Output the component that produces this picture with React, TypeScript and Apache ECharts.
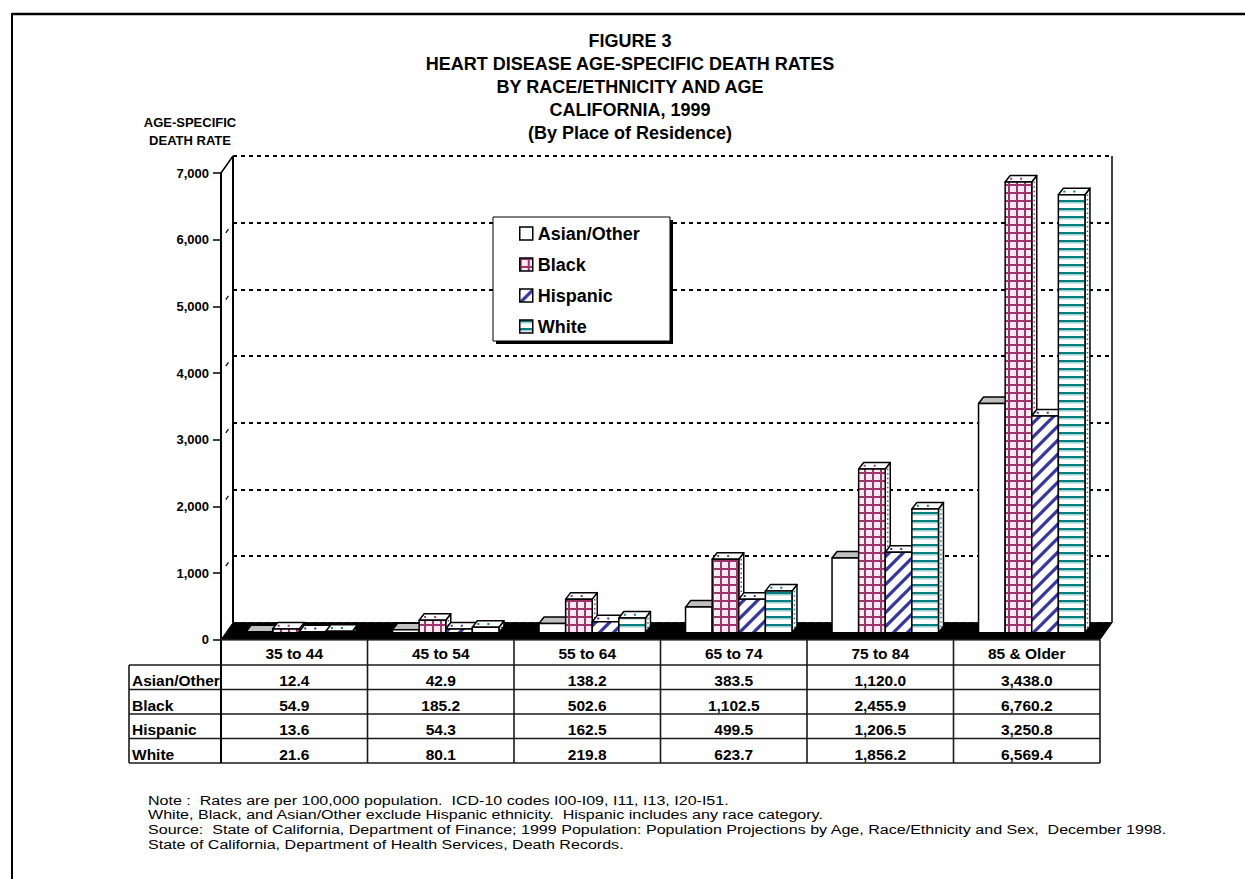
import React, { useEffect, useRef } from "react";
import * as echarts from "echarts";

const categories = ["35 to 44", "45 to 54", "55 to 64", "65 to 74", "75 to 84", "85 & Older"];
const seriesNames = ["Asian/Other", "Black", "Hispanic", "White"];
const asianOther = [12.4, 42.9, 138.2, 383.5, 1120.0, 3438.0];
const black = [54.9, 185.2, 502.6, 1102.5, 2455.9, 6760.2];
const hispanic = [13.6, 54.3, 162.5, 499.5, 1206.5, 3250.8];
const white = [21.6, 80.1, 219.8, 623.7, 1856.2, 6569.4];
const yMax = 7000;
const yInterval = 1000;
const yTicks = [1000, 2000, 3000, 4000, 5000, 6000];

const titleLines = [
  "FIGURE 3",
  "HEART DISEASE AGE-SPECIFIC DEATH RATES",
  "BY RACE/ETHNICITY AND AGE",
  "CALIFORNIA, 1999",
  "(By Place of Residence)",
];
const axisTitleLines = ["AGE-SPECIFIC", "DEATH RATE"];
const noteLines = [
  "Note :  Rates are per 100,000 population.  ICD-10 codes I00-I09, I11, I13, I20-I51.",
  "White, Black, and Asian/Other exclude Hispanic ethnicity.  Hispanic includes any race category.",
  "Source:  State of California, Department of Finance; 1999 Population: Population Projections by Age, Race/Ethnicity and Sex,  December 1998.",
  "State of California, Department of Health Services, Death Records.",
];

const FONT = '"Liberation Sans", Arial, Helvetica, sans-serif';

// layout
const GL = 221; // front plane left
const GT = 173; // front plane top (7000)
const GW = 879;
const GH = 466.67;
const GB = GT + GH;
const DX = 12; // back wall offset
const DY = -17;
const BAR_OX = 5;
const BAR_OY = -7;
const BOX_DX = 5;
const BOX_DY = -6.5;

function makeCanvas(w: number, h: number, draw: (ctx: CanvasRenderingContext2D) => void) {
  const c = document.createElement("canvas");
  c.width = w;
  c.height = h;
  const ctx = c.getContext("2d")!;
  ctx.fillStyle = "#fff";
  ctx.fillRect(0, 0, w, h);
  draw(ctx);
  return c;
}

function makePatterns() {
  const grid = makeCanvas(8, 8, (ctx) => {
    ctx.fillStyle = "#f7eaf0";
    ctx.fillRect(2, 2, 6, 6);
    ctx.fillStyle = "#a0356e";
    ctx.fillRect(0, 0, 8, 2);
    ctx.fillRect(0, 0, 2, 8);
  });
  const diag = makeCanvas(14, 14, (ctx) => {
    ctx.strokeStyle = "#3535a8";
    ctx.lineWidth = 3.2;
    ctx.beginPath();
    for (const o of [-14, 0, 14]) {
      ctx.moveTo(o - 2, 16);
      ctx.lineTo(o + 16, -2);
    }
    ctx.stroke();
  });
  const horiz = makeCanvas(8, 8, (ctx) => {
    ctx.fillStyle = "#00807f";
    ctx.fillRect(0, 0, 8, 2);
    ctx.fillStyle = "#9fd0cf";
    ctx.fillRect(0, 2, 8, 1.5);
  });
  const pat = (c: HTMLCanvasElement) => ({ image: c, repeat: "repeat", imageWidth: c.width, imageHeight: c.height });
  return ["#ffffff", pat(grid), pat(diag), pat(horiz)];
}

const fmt = (v: number) => v.toLocaleString("en-US", { minimumFractionDigits: 1, maximumFractionDigits: 1 });

export default function App() {
  const ref = useRef<HTMLDivElement>(null);
  useEffect(() => {
    if (!ref.current) return;
    const chart = echarts.init(ref.current, null, { renderer: "svg" });
    const fills = makePatterns();
    const topFills = ["#c0c0c0", "#ffffff", "#ffffff", "#ffffff"];
    const dotColors = ["#ffffff", "#a0356e", "#3535a8", "#00807f"];
    const seriesData = [asianOther, black, hispanic, white];
    const band = GW / categories.length;

    const series = seriesData.map((vals, si) => ({
      type: "custom",
      name: seriesNames[si],
      xAxisIndex: 0,
      yAxisIndex: 0,
      z: 3,
      data: vals.map((v, i) => [i, v]),
      encode: { x: 0, y: 1 },
      renderItem: (params: any, api: any) => {
        const ci = api.value(0);
        const v = api.value(1);
        const base = api.coord([ci, 0]);
        const top = api.coord([ci, v]);
        const bw = api.size([1, 0])[0] * 0.1816;
        const x0 = base[0] + BAR_OX - 2 * bw + params.seriesIndex * bw;
        const x1 = x0 + bw;
        const yb = base[1] + BAR_OY;
        const yt = top[1] + BAR_OY;
        const stroke = { stroke: "#000", lineWidth: 1.5, lineJoin: "round" };
        const children: any[] = [
          {
            type: "polygon",
            shape: { points: [[x1, yt], [x1 + BOX_DX, yt + BOX_DY], [x1 + BOX_DX, yb + BOX_DY], [x1, yb]] },
            style: { fill: "#fff", ...stroke },
          },
          {
            type: "polygon",
            shape: { points: [[x0, yt], [x0 + BOX_DX, yt + BOX_DY], [x1 + BOX_DX, yt + BOX_DY], [x1, yt]] },
            style: { fill: topFills[si], ...stroke },
          },
          {
            type: "rect",
            shape: { x: x0, y: yt, width: bw, height: Math.max(yb - yt, 0) },
            style: { fill: fills[si], ...stroke },
          },
        ];
        if (si > 0) {
          children.push({
            type: "line",
            shape: { x1: x1 + BOX_DX / 2, y1: yt + BOX_DY / 2 + 3, x2: x1 + BOX_DX / 2, y2: yb + BOX_DY / 2 - 1 },
            style: { stroke: dotColors[si], lineWidth: 1.5, lineDash: [1.5, 3] },
          });
          children.push({
            type: "line",
            shape: { x1: x0 + 5, y1: yt + BOX_DY / 2, x2: x1 - 2, y2: yt + BOX_DY / 2 },
            style: { stroke: dotColors[si], lineWidth: 2, lineDash: [2, 8] },
          });
        }
        return { type: "group", children };
      },
    }));

    const graphics: any[] = [];
    // outer border
    graphics.push({ type: "line", z: 20, shape: { x1: 12, y1: 14, x2: 1245, y2: 14 }, style: { stroke: "#000", lineWidth: 2.6 } });
    graphics.push({ type: "line", z: 20, shape: { x1: 12, y1: 13, x2: 12, y2: 879 }, style: { stroke: "#000", lineWidth: 2 } });
    // titles
    titleLines.forEach((t, i) => {
      graphics.push({
        type: "text", z: 20, x: 630, y: 41 + i * 23,
        style: { text: t, fill: "#000", font: `bold 18px ${FONT}`, textAlign: "center", textVerticalAlign: "middle" },
      });
    });
    axisTitleLines.forEach((t, i) => {
      graphics.push({
        type: "text", z: 20, x: 190, y: 122 + i * 18.5,
        style: { text: t, fill: "#000", font: `bold 13px ${FONT}`, textAlign: "center", textVerticalAlign: "middle" },
      });
    });
    // walls
    graphics.push({ type: "line", z: 1, shape: { x1: GL + DX, y1: GT + DY, x2: GL + DX, y2: GB + DY }, style: { stroke: "#000", lineWidth: 2 } });
    graphics.push({ type: "line", z: 1, shape: { x1: GL, y1: GT, x2: GL + DX, y2: GT + DY }, style: { stroke: "#000", lineWidth: 1.5 } });
    graphics.push({ type: "line", z: 1, shape: { x1: GL + GW + DX, y1: GT + DY, x2: GL + GW + DX, y2: GB + DY }, style: { stroke: "#000", lineWidth: 1.5 } });
    yTicks.forEach((t) => {
      const yf = GB - (t / yMax) * GH;
      graphics.push({
        type: "line", z: 1,
        shape: { x1: GL + DX * 0.4, y1: yf + DY * 0.4, x2: GL + DX * 0.62, y2: yf + DY * 0.62 },
        style: { stroke: "#000", lineWidth: 1.2 },
      });
    });
    // floor
    graphics.push({
      type: "polygon", z: 1,
      shape: { points: [[GL, GB], [GL + GW, GB], [GL + GW + DX, GB + DY], [GL + DX, GB + DY]] },
      style: { fill: "#000", stroke: "#000", lineWidth: 1 },
    });
    // table
    const rowTop = 665;
    const rowH = 24.5;
    const tableBottom = rowTop + rowH * seriesNames.length;
    const lineStyle = { stroke: "#1a1a1a", lineWidth: 1.6 };
    graphics.push({ type: "line", z: 5, shape: { x1: GL, y1: GB, x2: GL + GW, y2: GB }, style: lineStyle });
    for (let r = 0; r <= seriesNames.length; r++) {
      const y = rowTop + r * rowH;
      graphics.push({ type: "line", z: 5, shape: { x1: 129, y1: y, x2: GL + GW, y2: y }, style: lineStyle });
    }
    graphics.push({ type: "line", z: 5, shape: { x1: 129, y1: rowTop, x2: 129, y2: tableBottom }, style: lineStyle });
    graphics.push({ type: "line", z: 5, shape: { x1: GL, y1: GB, x2: GL, y2: tableBottom }, style: { stroke: "#000", lineWidth: 2 } });
    for (let c = 1; c <= categories.length; c++) {
      const x = GL + c * band;
      graphics.push({ type: "line", z: 5, shape: { x1: x, y1: GB, x2: x, y2: tableBottom }, style: lineStyle });
    }
    seriesNames.forEach((n, r) => {
      graphics.push({
        type: "text", z: 6, x: 132, y: rowTop + r * rowH + rowH / 2 + 3.5,
        style: { text: n, fill: "#000", font: `bold 15.5px ${FONT}`, textAlign: "left", textVerticalAlign: "middle" },
      });
    });
    // legend box
    graphics.push({ type: "rect", z: 6, shape: { x: 496, y: 220, width: 177, height: 124 }, style: { fill: "#000" } });
    graphics.push({ type: "rect", z: 6, shape: { x: 493, y: 217, width: 177, height: 124 }, style: { fill: "#fff", stroke: "#000", lineWidth: 1 } });
    // notes
    noteLines.forEach((t, i) => {
      graphics.push({
        type: "text", z: 20, x: 148, y: 800 + i * 14.8, scaleX: 1.19,
        style: { text: t, fill: "#000", font: `13.5px ${FONT}`, textAlign: "left", textVerticalAlign: "middle" },
      });
    });

    const option: any = {
      animation: false,
      backgroundColor: "#fff",
      grid: [
        { left: GL, top: GT, width: GW, height: GH, containLabel: false },
        { left: GL + DX, top: GT + DY, width: GW, height: GH, containLabel: false },
      ],
      xAxis: [
        {
          type: "category",
          gridIndex: 0,
          data: categories,
          axisLine: { show: false },
          axisTick: { show: false },
          axisLabel: {
            interval: 0,
            margin: -2,
            formatter: (val: string, idx: number) =>
              [`{h|${val}}`, ...[asianOther, black, hispanic, white].map((arr) => `{v|${fmt(arr[idx])}}`)].join("\n"),
            rich: {
              h: { fontFamily: FONT, fontWeight: "bold", fontSize: 15.5, lineHeight: 31, color: "#000" },
              v: { fontFamily: FONT, fontWeight: "bold", fontSize: 15.5, lineHeight: 24.5, color: "#000" },
            },
          },
          splitLine: { show: false },
        },
        { type: "category", gridIndex: 1, data: categories, show: false },
      ],
      yAxis: [
        {
          type: "value",
          gridIndex: 0,
          min: 0,
          max: yMax,
          interval: yInterval,
          axisLine: { show: true, lineStyle: { color: "#000", width: 2 } },
          axisTick: { show: true, inside: false, length: 8, lineStyle: { color: "#000", width: 1.5 } },
          axisLabel: {
            margin: 12,
            color: "#000",
            fontFamily: FONT,
            fontWeight: "bold",
            fontSize: 13,
            formatter: (v: number) => v.toLocaleString("en-US"),
          },
          splitLine: { show: false },
        },
        {
          type: "value",
          gridIndex: 1,
          min: 0,
          max: yMax,
          interval: yInterval,
          axisLine: { show: false },
          axisTick: { show: false },
          axisLabel: { show: false },
          splitLine: { show: true, lineStyle: { color: "#000", width: 2, type: [4, 4] } },
        },
      ],
      legend: {
        orient: "vertical",
        left: 493,
        top: 217,
        z: 7,
        padding: [7, 28, 5, 26],
        itemGap: 12,
        itemWidth: 13,
        itemHeight: 13,
        selectedMode: false,
        textStyle: { fontFamily: FONT, fontWeight: "bold", fontSize: 18, lineHeight: 19, color: "#000" },
        data: seriesNames.map((n, i) => ({
          name: n,
          icon: "rect",
          itemStyle: { color: fills[i], borderColor: "#000", borderWidth: 1.5 },
        })),
      },
      graphic: { elements: graphics },
      series,
    };
    chart.setOption(option);
    return () => chart.dispose();
  }, []);

  return (
    <div
      ref={ref}
      style={{ position: "absolute", left: 0, top: 0, width: 1245, height: 879, background: "#fff" }}
    />
  );
}
